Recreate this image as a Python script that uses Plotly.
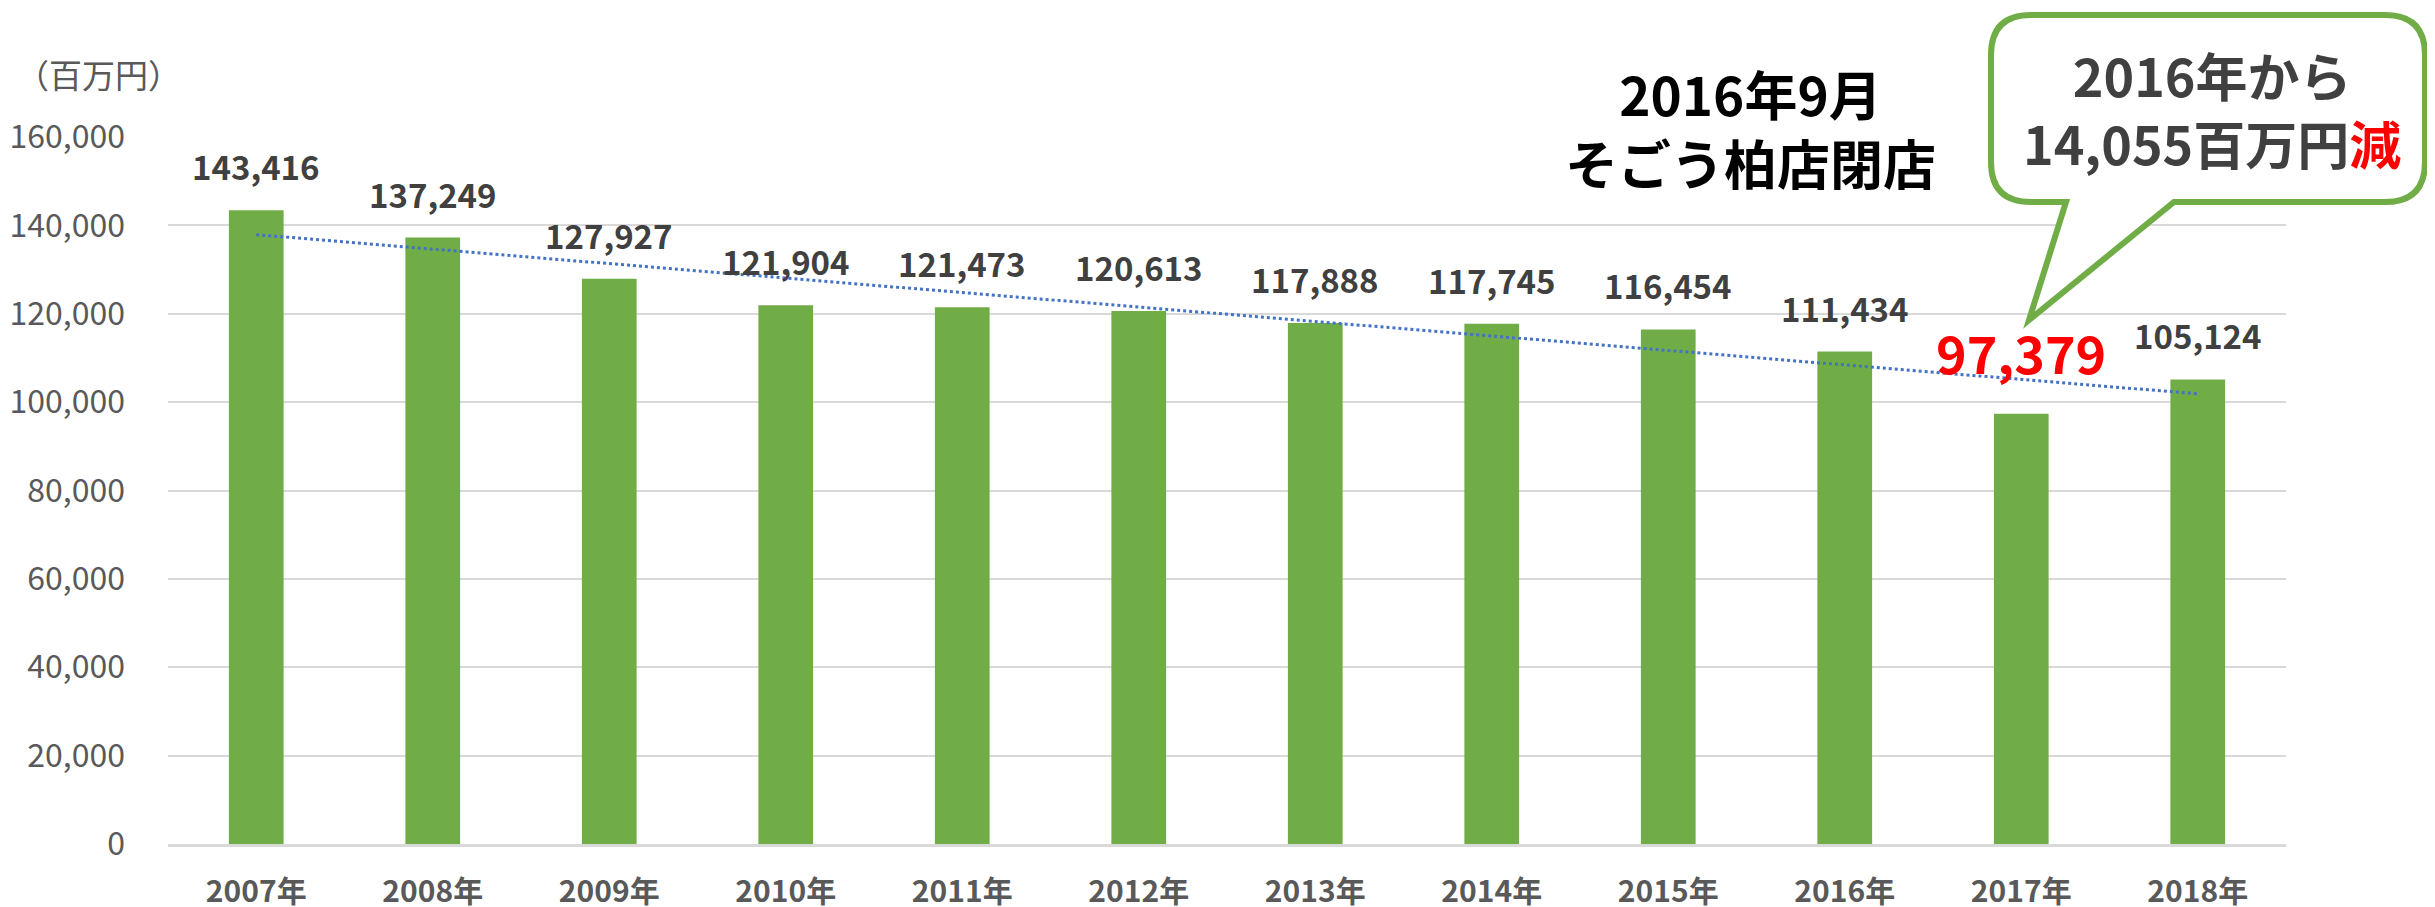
import numpy as np
import plotly.graph_objects as go

years = ["2007年", "2008年", "2009年", "2010年", "2011年", "2012年",
         "2013年", "2014年", "2015年", "2016年", "2017年", "2018年"]
sales = [143416, 137249, 127927, 121904, 121473, 120613,
         117888, 117745, 116454, 111434, 97379, 105124]
y_ticks = [0, 20000, 40000, 60000, 80000, 100000, 120000, 140000, 160000]

OFF = 8  # default page margin of the html body
W, H = 2435 - OFF, 907 - OFF
L, R, T, B = 168, 2286, 137, 844  # plot area in page pixels
FONT = "Noto Sans CJK JP"
GREY = "#595959"
DARK = "#404040"
GREEN = "#70AD47"


def px(xp):
    return (xp - L) / (R - L)


def py(yp):
    return (B - yp) / (B - T)


fig = go.Figure()
fig.add_trace(go.Bar(x=years, y=sales, marker=dict(color=GREEN, line=dict(width=0)),
                     width=0.31, hoverinfo="skip"))

# linear trend line (as Excel's trendline)
idx = np.arange(len(sales))
coef = np.polyfit(idx, sales, 1)
trend = np.polyval(coef, idx)
fig.add_trace(go.Scatter(x=years, y=trend, mode="lines",
                         line=dict(color="#4472C4", width=3, dash="dot"),
                         hoverinfo="skip"))

annotations = []
hl = 10  # highlighted (2017)
for i, (yr, v) in enumerate(zip(years, sales)):
    if i == hl:
        annotations.append(dict(x=yr, y=v, xref="x", yref="y", text=f"{v:,}",
                                showarrow=False, yanchor="bottom", yshift=23,
                                font=dict(family=FONT, size=52, color="#FF0000", weight="bold")))
    else:
        annotations.append(dict(x=yr, y=v, xref="x", yref="y", text=f"{v:,}",
                                showarrow=False, yanchor="bottom", yshift=18,
                                font=dict(family=FONT, size=33, color=DARK, weight="bold")))

annotations.append(dict(x=px(98), y=py(74), xref="paper", yref="paper",
                        text="（百万円）", showarrow=False, xanchor="center", yanchor="middle",
                        font=dict(family=FONT, size=33, color=GREY)))
annotations.append(dict(x=px(1750), y=py(128), xref="paper", yref="paper",
                        text="2016年9月<br>そごう柏店閉店", showarrow=False,
                        xanchor="center", yanchor="middle",
                        font=dict(family=FONT, size=53, color="#000000", weight="bold")))
annotations.append(dict(x=px(2212), y=py(108), xref="paper", yref="paper",
                        text="2016年から<br>14,055百万円<span style='color:#FF0000'>減</span>",
                        showarrow=False, xanchor="center", yanchor="middle",
                        font=dict(family=FONT, size=52, color=DARK, weight="bold")))

# speech bubble outline
l, r, t, b, rad = 1991, 2425, 15, 202, 40
tl, tr, tipx, tipy = 2066, 2174, 2029, 320
pts = [
    ("M", (l + rad, t)), ("L", (r - rad, t)), ("Q", (r, t), (r, t + rad)),
    ("L", (r, b - rad)), ("Q", (r, b), (r - rad, b)),
    ("L", (tr, b)), ("L", (tipx, tipy)), ("L", (tl, b)),
    ("L", (l + rad, b)), ("Q", (l, b), (l, b - rad)),
    ("L", (l, t + rad)), ("Q", (l, t), (l + rad, t)),
]
path = ""
for cmd, *ps in pts:
    path += cmd + " " + " ".join(f"{px(a):.5f},{py(c):.5f}" for a, c in ps) + " "
path += "Z"

fig.update_layout(
    width=W, height=H,
    margin=dict(l=L - OFF, r=(W + OFF) - R, t=T - OFF, b=(H + OFF) - B, autoexpand=False),
    paper_bgcolor="white", plot_bgcolor="white",
    showlegend=False,
    bargap=0.69,
    annotations=annotations,
    shapes=[dict(type="path", path=path, xref="paper", yref="paper",
                 line=dict(color=GREEN, width=6), fillcolor="white", layer="above")],
    xaxis=dict(type="category", showgrid=False, showline=True, linecolor="#D9D9D9",
               linewidth=3, ticks="", ticklabelstandoff=19, automargin=False,
               tickfont=dict(family=FONT, size=30, color=GREY, weight="bold")),
    yaxis=dict(range=[0, 160000], tickvals=y_ticks, tickformat=",",
               showgrid=True, gridcolor="#D9D9D9", gridwidth=2, automargin=False,
               zeroline=False, showline=False, ticks="", ticklabelstandoff=42,
               tickfont=dict(family=FONT, size=32, color=GREY)),
)

fig.write_html("out.html")
